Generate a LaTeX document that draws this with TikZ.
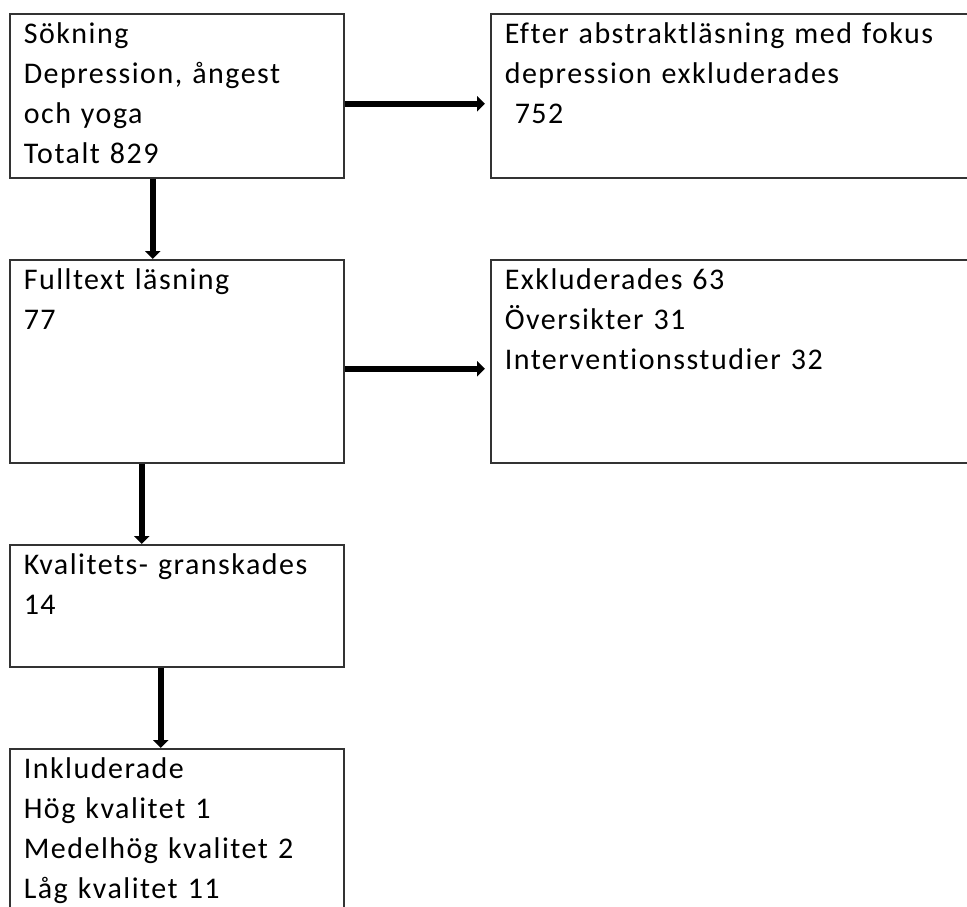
\documentclass[tikz,border=0pt]{standalone}
\usepackage{fontspec}
\setmainfont{Carlito}[LetterSpace=5, Ligatures=CommonOff]
\usetikzlibrary{arrows.meta}

\begin{document}
\begin{tikzpicture}[x=0.5pt, y=-0.5pt,
  ruta/.style={draw=black!80, line width=0.75pt, anchor=north west, align=left,
    inner xsep=7pt, inner ysep=0pt, text height=15pt,
    font=\fontsize{15pt}{20pt}\selectfont},
  vanster/.style={ruta, text width=153pt},
  hoger/.style={ruta, text width=236pt},
  pil/.style={-{Triangle[length=4pt,width=7.5pt]}, line width=3pt}]
\useasboundingbox (0,0) rectangle (967,906);
\clip (0,0) rectangle (967,906);

% Left column
\node[vanster, text depth=67pt] (sok) at (9,13) {Sökning\\Depression, ångest\\och yoga\\Totalt 829};
\node[vanster, text depth=86.5pt] (full) at (9,259) {Fulltext läsning\\77};
\node[vanster, text depth=46pt] (kval) at (9,544) {Kvalitets- granskades\\14};
\node[vanster, text depth=76pt] (inkl) at (9,748) {Inkluderade\\Hög kvalitet 1\\Medelhög kvalitet 2\\Låg kvalitet 11};

% Right column
\node[hoger, text depth=67pt] (efter) at (490,13) {Efter abstraktläsning med fokus\\depression exkluderades\\\ 752};
\node[hoger, text depth=86.5pt] (exkl) at (490,259) {Exkluderades 63\\Översikter 31\\Interventionsstudier 32};

% Connections
\draw[pil, shorten >=2.5pt] ([yshift=-4pt]sok.east) -- ([yshift=-4pt]efter.west);
\draw[pil, shorten >=2.5pt] ([yshift=-3.75pt]full.east) -- ([yshift=-3.75pt]exkl.west);
\draw[pil] ([xshift=-12pt]sok.south) -- ([xshift=-12pt]full.north);
\draw[pil] ([xshift=-17.5pt]full.south) -- ([xshift=-17.5pt]kval.north);
\draw[pil] ([xshift=-8pt]kval.south) -- ([xshift=-8pt]inkl.north);
\end{tikzpicture}
\end{document}
